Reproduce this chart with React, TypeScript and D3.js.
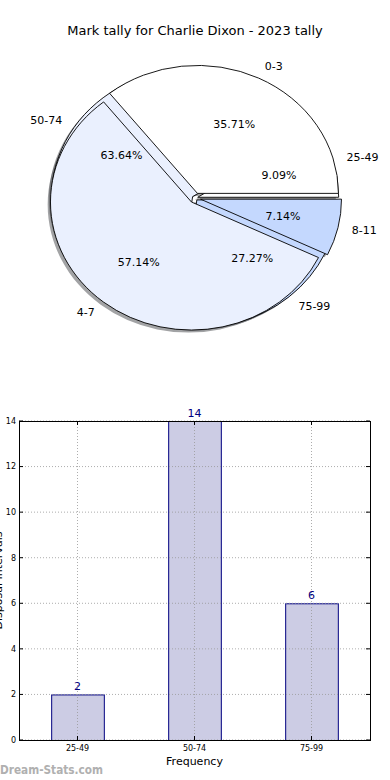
import React, { useEffect, useRef } from 'react';
import * as d3 from 'd3';

// pie 1 : mark tally per game
const tallyLabels = ['0-3', '4-7', '8-11'];
const tallyValues = [5, 8, 1];
// pie 2 + bars : intervals
const intervalLabels = ['25-49', '50-74', '75-99'];
const intervalValues = [2, 14, 6];
const yTicks = [0, 2, 4, 6, 8, 10, 12, 14];
const pieColors = ['#ffffff', '#eaf0fe', '#c4d8fe'];

const title = 'Mark tally for Charlie Dixon - 2023 tally';

const W = 390;
const H = 780;

const App: React.FC = () => {
  const svgRef = useRef<SVGSVGElement>(null);

  useEffect(() => {
    if (!svgRef.current) return;
    const svg = d3.select(svgRef.current);
    svg.selectAll('*').remove();
    const font = '"DejaVu Sans", sans-serif';

    svg.append('rect').attr('width', W).attr('height', H).attr('fill', '#fff');

    // Title
    svg.append('text')
      .attr('x', W / 2)
      .attr('y', 30)
      .attr('dy', '0.35em')
      .attr('text-anchor', 'middle')
      .style('font-family', font)
      .style('font-size', '13px')
      .style('fill', '#000')
      .text(title);

    // ---- Pies (elliptical, like matplotlib without equal aspect)
    const cx = 195, cy = 198, rx = 141, ry = 128;
    const explode1 = 0.04;
    const explode2 = 0.02;

    const pie = d3.pie<number>()
      .sort(null)
      .value(d => d)
      .startAngle(Math.PI / 2)
      .endAngle(Math.PI / 2 - 2 * Math.PI);

    const arc = d3.arc<d3.PieArcDatum<number>>()
      .innerRadius(0)
      .outerRadius(1);

    const mid = (d: d3.PieArcDatum<number>) => (d.startAngle + d.endAngle) / 2;
    const dir = (d: d3.PieArcDatum<number>) => [Math.sin(mid(d)), -Math.cos(mid(d))];

    const pieG = svg.append('g').attr('transform', `translate(${cx},${cy}) scale(${rx},${ry})`);

    const pies = [
      { values: intervalValues, labels: intervalLabels, explode: explode2 },
      { values: tallyValues, labels: tallyLabels, explode: explode1 },
    ];

    // shadows first (below all wedges)
    pies.forEach(p => {
      pieG.append('g')
        .attr('transform', 'translate(-0.02,0.02)')
        .selectAll('path')
        .data(pie(p.values))
        .enter().append('path')
        .attr('transform', d => `translate(${dir(d)[0] * p.explode},${dir(d)[1] * p.explode})`)
        .attr('d', arc)
        .attr('fill', (d, i) => {
          const c = d3.rgb(pieColors[i % pieColors.length]);
          return `rgba(${c.r * 0.3},${c.g * 0.3},${c.b * 0.3},0.5)`;
        });
    });

    // wedges
    pies.forEach(p => {
      pieG.append('g')
        .selectAll('path')
        .data(pie(p.values))
        .enter().append('path')
        .attr('transform', d => `translate(${dir(d)[0] * p.explode},${dir(d)[1] * p.explode})`)
        .attr('d', arc)
        .attr('fill', (d, i) => pieColors[i % pieColors.length])
        .attr('stroke', '#000')
        .attr('stroke-width', 0.9)
        .attr('vector-effect', 'non-scaling-stroke')
        .attr('stroke-linejoin', 'miter');
    });

    // labels
    pies.forEach(p => {
      const total = d3.sum(p.values);
      const arcs = pie(p.values);
      arcs.forEach((d, i) => {
        const [ux, uy] = dir(d);
        const lx = cx + (1.1 + p.explode) * ux * rx;
        const ly = cy + (1.1 + p.explode) * uy * ry;
        svg.append('text')
          .attr('x', lx)
          .attr('y', ly)
          .attr('dy', '0.35em')
          .attr('text-anchor', ux > 0 ? 'start' : 'end')
          .style('font-family', font)
          .style('font-size', '11px')
          .style('fill', '#000')
          .text(p.labels[i]);
        const px = cx + (0.6 + p.explode) * ux * rx;
        const py = cy + (0.6 + p.explode) * uy * ry;
        svg.append('text')
          .attr('x', px)
          .attr('y', py)
          .attr('dy', '0.35em')
          .attr('text-anchor', 'middle')
          .style('font-family', font)
          .style('font-size', '11px')
          .style('fill', '#000')
          .text(((p.values[i] / total) * 100).toFixed(2) + '%');
      });
    });

    // ---- Bar chart
    const left = 19, right = 370, top = 421, bottom = 740;

    const x = d3.scaleLinear().domain([-0.5, intervalLabels.length - 0.5]).range([left, right]);
    const y = d3.scaleLinear().domain([0, 14]).range([bottom, top]);
    const barW = 0.45;

    svg.append('g')
      .selectAll('rect')
      .data(intervalValues)
      .enter().append('rect')
      .attr('x', (d, i) => x(i - barW / 2) + 0.5)
      .attr('y', d => y(d) + 0.5)
      .attr('width', x(barW) - x(0))
      .attr('height', d => y(0) - y(d))
      .attr('fill', 'rgba(191,191,221,0.8)')
      .attr('stroke', '#000080')
      .attr('stroke-width', 1);

    // dotted grid over the bars
    intervalLabels.forEach((l, i) => {
      svg.append('line')
        .attr('x1', x(i)).attr('x2', x(i))
        .attr('y1', top).attr('y2', bottom)
        .attr('stroke', '#999')
        .attr('stroke-opacity', 0.8)
        .attr('stroke-width', 1)
        .attr('stroke-dasharray', '1,2');
    });
    yTicks.forEach(t => {
      svg.append('line')
        .attr('x1', left).attr('x2', right)
        .attr('y1', y(t)).attr('y2', y(t))
        .attr('stroke', '#999')
        .attr('stroke-opacity', 0.8)
        .attr('stroke-width', 1)
        .attr('stroke-dasharray', '1,2');
    });

    // value labels
    intervalValues.forEach((v, i) => {
      svg.append('text')
        .attr('x', x(i))
        .attr('y', y(v) - 4)
        .attr('text-anchor', 'middle')
        .style('font-family', font)
        .style('font-size', '11px')
        .style('fill', '#000080')
        .text(v);
    });

    // frame
    svg.append('rect')
      .attr('x', left + 0.5).attr('y', top + 0.5)
      .attr('width', right - left).attr('height', bottom - top)
      .attr('fill', 'none')
      .attr('stroke', '#000')
      .attr('stroke-width', 1);

    // ticks (inside, both sides)
    yTicks.forEach(t => {
      svg.append('line').attr('x1', left).attr('x2', left + 4).attr('y1', y(t)).attr('y2', y(t)).attr('stroke', '#000');
      svg.append('line').attr('x1', right - 4).attr('x2', right).attr('y1', y(t)).attr('y2', y(t)).attr('stroke', '#000');
      svg.append('text')
        .attr('x', left - 3)
        .attr('y', y(t))
        .attr('dy', '0.35em')
        .attr('text-anchor', 'end')
        .style('font-family', font)
        .style('font-size', '8px')
        .style('fill', '#000')
        .text(t);
    });
    intervalLabels.forEach((l, i) => {
      svg.append('line').attr('x1', x(i)).attr('x2', x(i)).attr('y1', bottom).attr('y2', bottom - 4).attr('stroke', '#000');
      svg.append('line').attr('x1', x(i)).attr('x2', x(i)).attr('y1', top).attr('y2', top + 4).attr('stroke', '#000');
      svg.append('text')
        .attr('x', x(i))
        .attr('y', bottom + 8)
        .attr('dy', '0.35em')
        .attr('text-anchor', 'middle')
        .style('font-family', font)
        .style('font-size', '8px')
        .style('fill', '#000')
        .text(l);
    });

    svg.append('text')
      .attr('x', (left + right) / 2)
      .attr('y', 761)
      .attr('dy', '0.35em')
      .attr('text-anchor', 'middle')
      .style('font-family', font)
      .style('font-size', '11px')
      .style('fill', '#000')
      .text('Frequency');

    // y label sits mostly off the left edge, as in the source image
    svg.append('text')
      .attr('transform', `translate(2,${(top + bottom) / 2}) rotate(-90)`)
      .attr('text-anchor', 'middle')
      .style('font-family', font)
      .style('font-size', '11px')
      .style('fill', '#000')
      .text('Disposal Intervals');

    // watermark
    svg.append('text')
      .attr('x', 0)
      .attr('y', 770)
      .attr('dy', '0.35em')
      .attr('textLength', 103)
      .attr('lengthAdjust', 'spacingAndGlyphs')
      .style('font-family', font)
      .style('font-size', '12px')
      .style('font-weight', 'bold')
      .style('fill', '#b0b0b0')
      .text('Dream-Stats.com');
  }, []);

  return (
    <div style={{ position: 'absolute', left: 0, top: 0 }}>
      <svg ref={svgRef} width={W} height={H} style={{ display: 'block' }} />
    </div>
  );
};

export default App;
